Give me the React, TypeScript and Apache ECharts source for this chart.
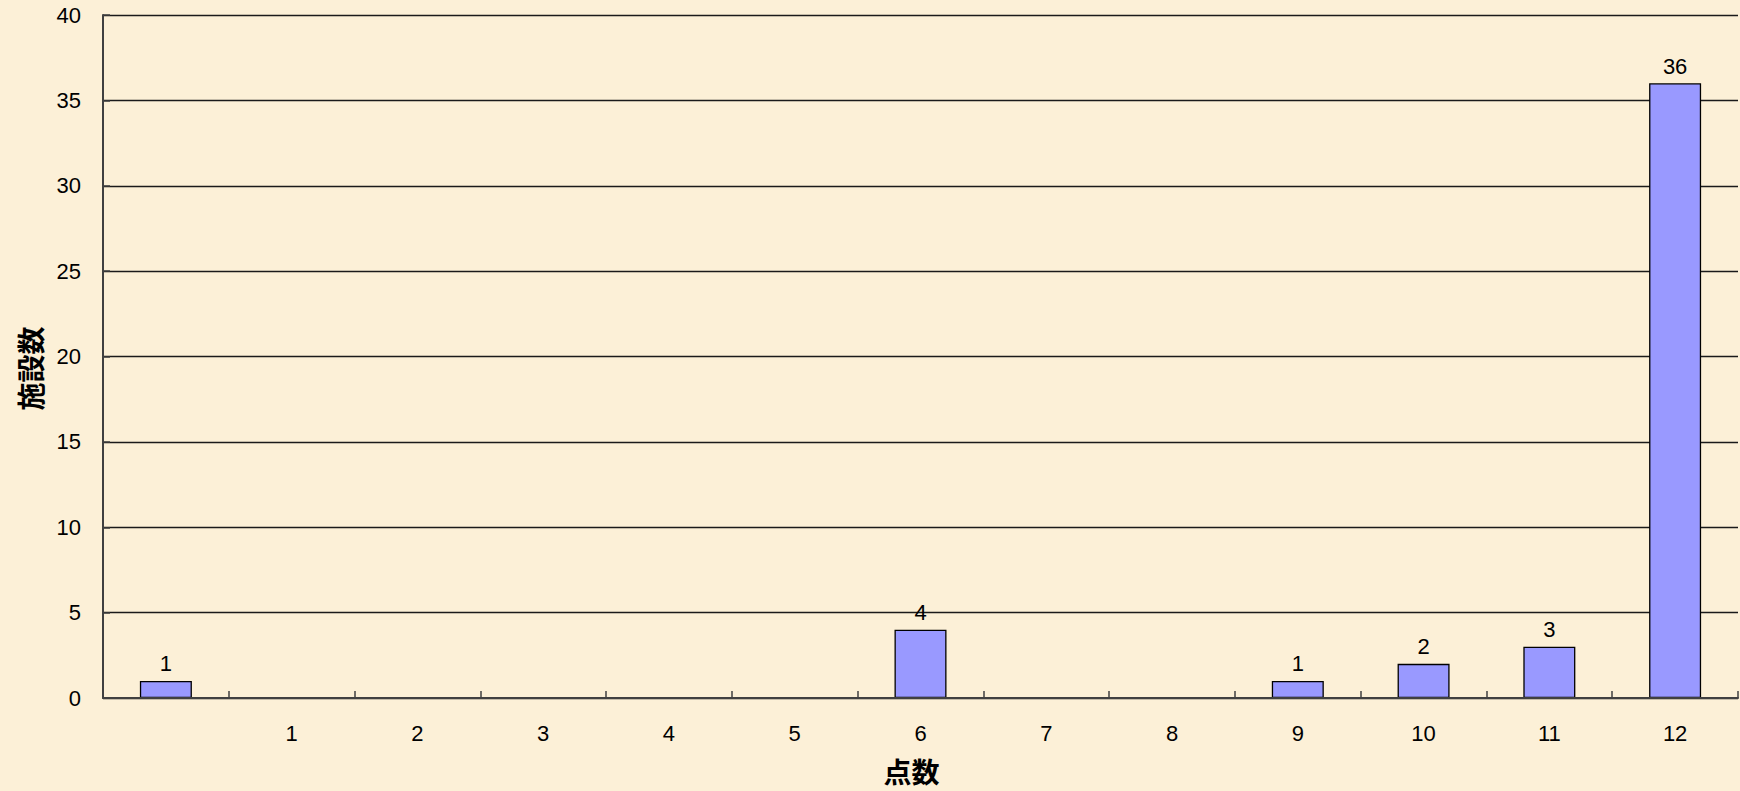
import React, { useEffect, useRef } from "react";
import * as echarts from "echarts";

// 点数 categories (first slot carries no tick label)
const categories: string[] = ["", "1", "2", "3", "4", "5", "6", "7", "8", "9", "10", "11", "12"];
// 施設数 per category
const facilityCounts: number[] = [1, 0, 0, 0, 0, 0, 4, 0, 0, 1, 2, 3, 36];
// value-axis range
const yMin = 0;
const yMax = 40;
const yStep = 5;

const latin = "'Liberation Sans', Arial, sans-serif";
const cjk = "'Noto Sans CJK JP', 'Noto Sans CJK SC', sans-serif";

export default function App() {
  const ref = useRef<HTMLDivElement | null>(null);

  useEffect(() => {
    document.body.style.margin = "0";
    if (!ref.current) return;
    const chart = echarts.init(ref.current, undefined, { renderer: "svg" });
    chart.setOption({
      animation: false,
      backgroundColor: "#FCF0D7",
      grid: {
        left: 103,
        right: 2,
        top: 15,
        bottom: 93,
        containLabel: false,
        outerBoundsMode: "none",
      },
      xAxis: {
        type: "category",
        data: categories,
        z: 5,
        name: "点数",
        nameLocation: "middle",
        nameGap: 59,
        nameTextStyle: {
          fontFamily: cjk,
          fontWeight: "bold",
          fontSize: 28,
          color: "#000",
          padding: [0, 18, 0, 0],
        },
        axisLine: { show: true, lineStyle: { color: "#404040", width: 2 } },
        axisTick: { show: true, inside: true, length: 7, alignWithLabel: false, lineStyle: { color: "#404040", width: 1.5 } },
        axisLabel: { color: "#000", fontFamily: latin, fontSize: 22, margin: 24, interval: 0 },
        splitLine: { show: false },
      },
      yAxis: {
        type: "value",
        min: yMin,
        max: yMax,
        interval: yStep,
        name: "施設数",
        nameLocation: "middle",
        nameGap: 59,
        nameRotate: 90,
        nameTextStyle: {
          fontFamily: cjk,
          fontWeight: "bold",
          fontSize: 28,
          color: "#000",
          padding: [0, 24, 0, 0],
        },
        axisLine: { show: true, lineStyle: { color: "#404040", width: 2 } },
        axisTick: { show: true, inside: true, length: 7, lineStyle: { color: "#404040", width: 1.5 } },
        axisLabel: { color: "#000", fontFamily: latin, fontSize: 22, margin: 22 },
        splitLine: { show: true, lineStyle: { color: "#1a1a1a", width: 1.3 } },
      },
      series: [
        {
          type: "bar",
          data: facilityCounts,
          barWidth: 52,
          itemStyle: { color: "#9999FF", borderColor: "#000", borderWidth: 1.3 },
          label: {
            show: true,
            position: "top",
            distance: 6,
            color: "#000",
            fontFamily: latin,
            fontSize: 22,
            formatter: (p: any) => (p.value ? String(p.value) : ""),
          },
        },
      ],
    });
    return () => chart.dispose();
  }, []);

  return (
    <div
      ref={ref}
      style={{ position: "absolute", left: 0, top: 0, width: 1740, height: 791 }}
    />
  );
}
